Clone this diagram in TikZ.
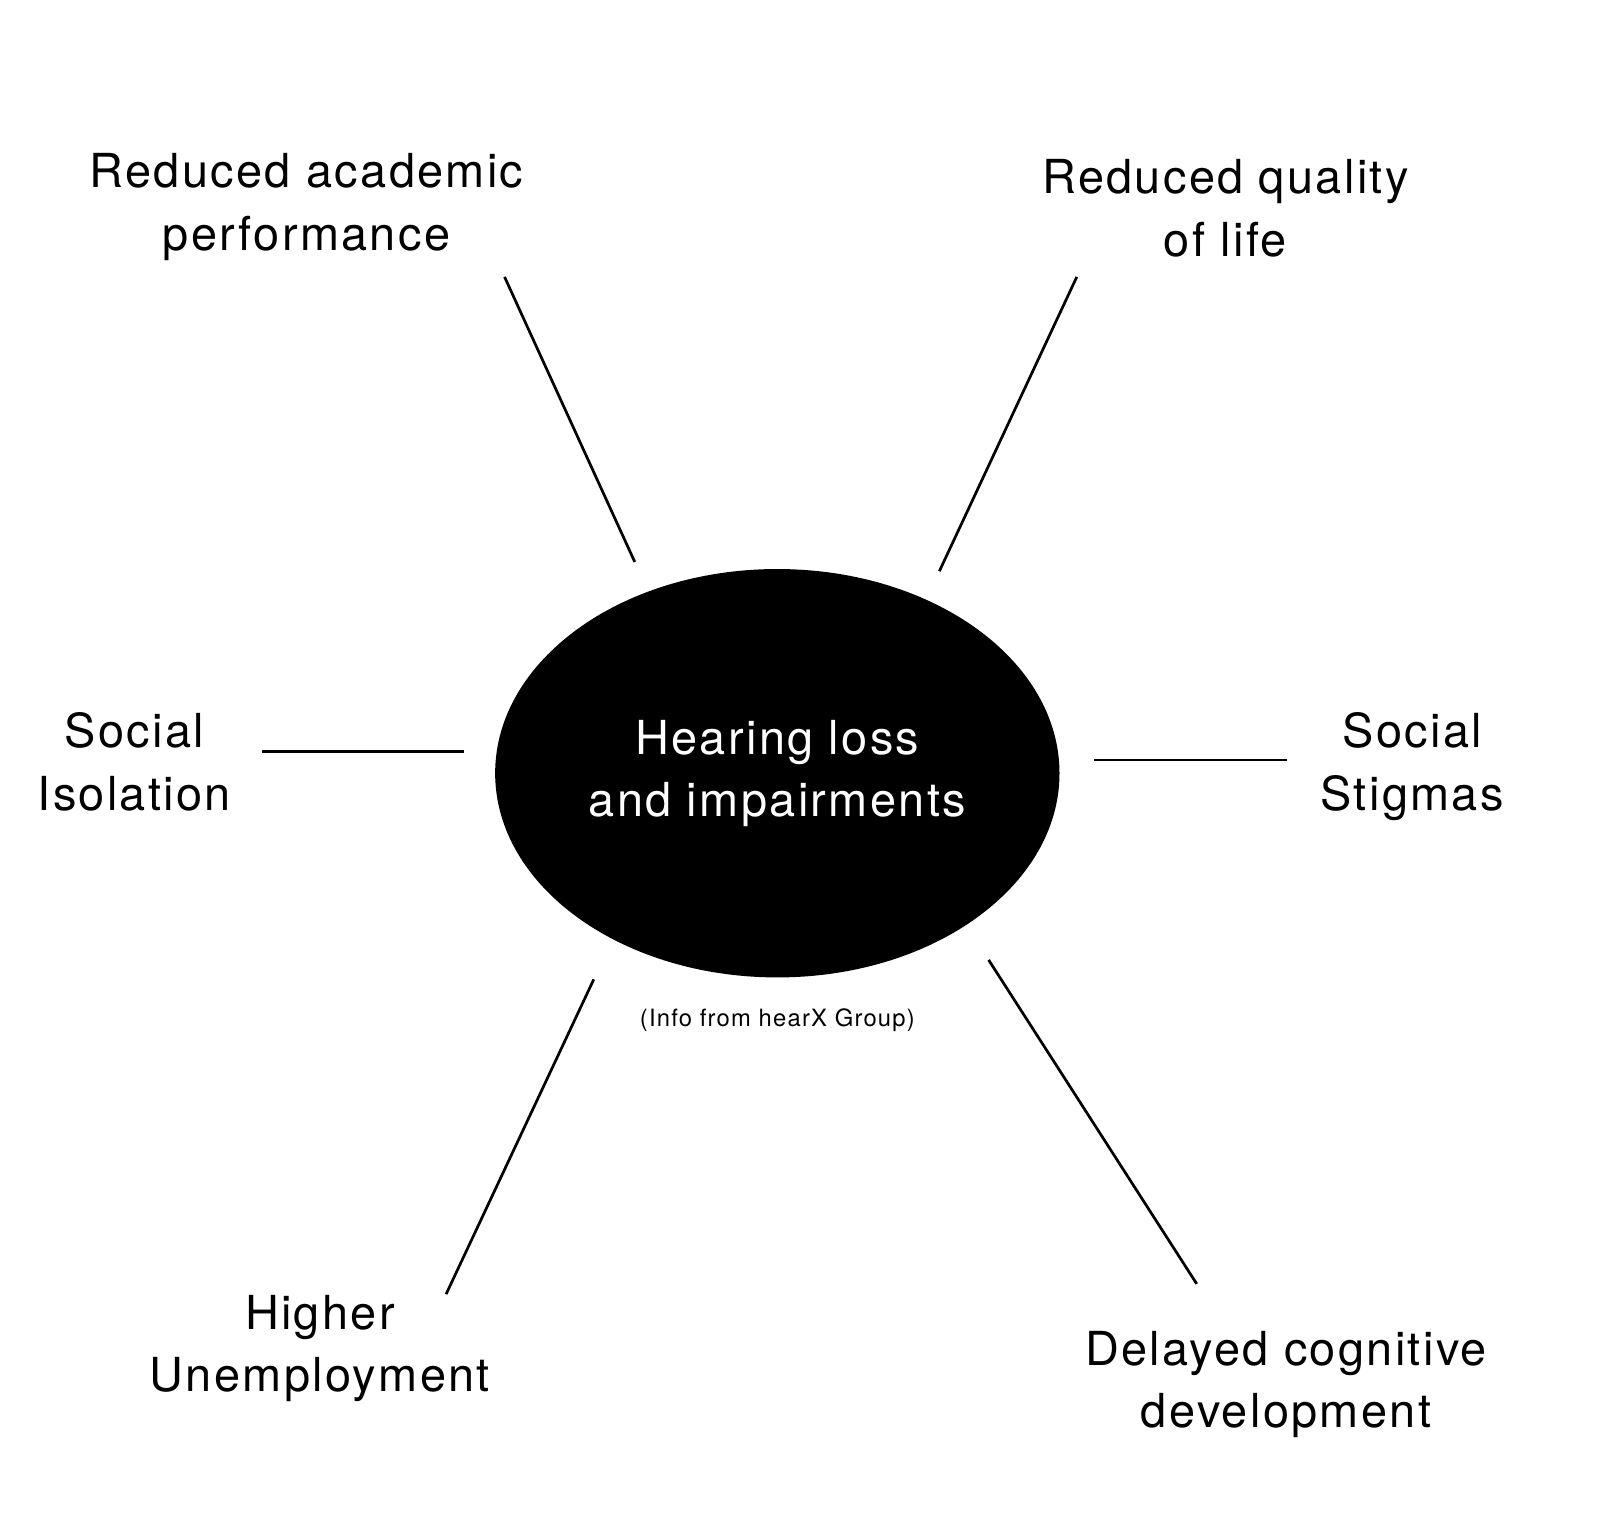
\documentclass[tikz,border=0pt]{standalone}
\usepackage{fontspec}
\setmainfont{TeX Gyre Heros}[LetterSpace=5]
\usetikzlibrary{positioning,shapes.geometric}

\begin{document}
\begin{tikzpicture}[x=0.01cm, y=-0.01cm]
    \tikzset{effect/.style={
        align=center, inner sep=0pt, anchor=base, font=\fontsize{13}{17.3}\selectfont
      },
      hub/.style={
        ellipse, fill=black, minimum width=5.5cm, minimum height=3.98cm, inner sep=0pt,
        text=white, align=center, font=\fontsize{13}{17.3}\selectfont
      },
      spoke/.style={line width=0.75pt}
    }

    \useasboundingbox (0,0) rectangle (1568,1482);

    \node[hub] (H) at (758,754) {Hearing loss\\and impairments};
    \node[font=\fontsize{6.6}{8}\selectfont, inner sep=0pt] (info) at (758,995) {(Info from hearX Group)};

    % anchored at the baseline of the last line
    \node[effect] (acad) at (299,244) {Reduced academic\\performance};
    \node[effect] (qual) at (1195,250) {Reduced quality\\of life};
    \node[effect] (isol) at (131,790) {Social\\Isolation};
    \node[effect] (stig) at (1377,790) {Social\\Stigmas};
    \node[effect] (unem) at (312,1357) {Higher\\Unemployment};
    \node[effect] (cogn) at (1254,1392) {Delayed cognitive\\development};

    % free ends of the spokes
    \coordinate (acad-a) at (492,270);  \coordinate (acad-b) at (619,548);
    \coordinate (qual-a) at (1050,270); \coordinate (qual-b) at (916,557);
    \coordinate (isol-a) at (255,733);  \coordinate (isol-b) at (452,733);
    \coordinate (stig-a) at (1255,741); \coordinate (stig-b) at (1067,741);
    \coordinate (unem-a) at (435,1262); \coordinate (unem-b) at (579,955);
    \coordinate (cogn-a) at (1167,1252); \coordinate (cogn-b) at (964,936);

    \foreach \n in {acad,qual,isol,stig,unem,cogn}
      \draw[spoke] (\n-a) -- (\n-b);
\end{tikzpicture}
\end{document}
